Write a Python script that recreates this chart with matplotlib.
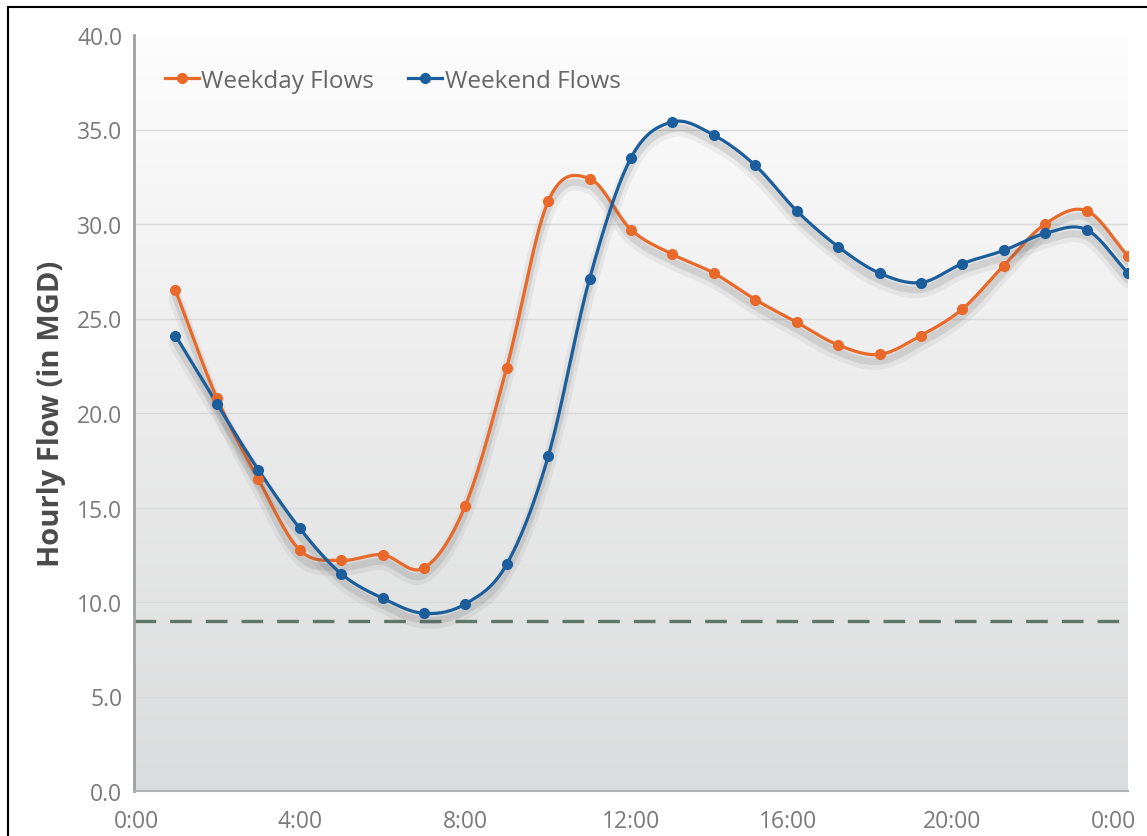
import numpy as np
import matplotlib
matplotlib.use("Agg")
import matplotlib.pyplot as plt
import matplotlib.patheffects as pe
from matplotlib.patches import Rectangle
from matplotlib.colors import LinearSegmentedColormap

# ---- data ----
hours = list(range(1, 25))
weekday = [26.5, 20.8, 16.5, 12.75, 12.2, 12.5, 11.8, 15.1, 22.4, 31.2, 32.4, 29.7,
           28.4, 27.4, 26.0, 24.8, 23.6, 23.1, 24.1, 25.5, 27.8, 30.0, 30.7, 28.3]
weekend = [24.1, 20.5, 17.0, 13.9, 11.5, 10.2, 9.4, 9.9, 12.0, 17.7, 27.1, 33.5,
           35.4, 34.7, 33.1, 30.7, 28.8, 27.4, 26.9, 27.9, 28.6, 29.5, 29.7, 27.4]
threshold = 9.0
xtick_labels = ["0:00", "4:00", "8:00", "12:00", "16:00", "20:00", "0:00"]
yticks = [0, 5, 10, 15, 20, 25, 30, 35, 40]
series_names = ["Weekday Flows", "Weekend Flows"]
colors = ["#E8692A", "#1B5E9B"]

# label placement along the axis (as in the original layout)
xtick_pos = [0.07, 4.0, 8.0, 12.0, 15.78, 19.75, 23.65]

plt.rcParams['font.family'] = ['Open Sans', 'DejaVu Sans']


def catmull_rom(x, y, n=20):
    x = np.asarray(x, float)
    y = np.asarray(y, float)
    px = np.concatenate([[2 * x[0] - x[1]], x, [2 * x[-1] - x[-2]]])
    py = np.concatenate([[2 * y[0] - y[1]], y, [2 * y[-1] - y[-2]]])
    xs, ys = [], []
    t = np.linspace(0, 1, n, endpoint=False)
    for i in range(1, len(px) - 2):
        p0, p1, p2, p3 = py[i - 1], py[i], py[i + 1], py[i + 2]
        q0, q1, q2, q3 = px[i - 1], px[i], px[i + 1], px[i + 2]
        f = lambda a0, a1, a2, a3: 0.5 * ((2 * a1) + (-a0 + a2) * t +
                                          (2 * a0 - 5 * a1 + 4 * a2 - a3) * t ** 2 +
                                          (-a0 + 3 * a1 - 3 * a2 + a3) * t ** 3)
        xs.append(f(q0, q1, q2, q3))
        ys.append(f(p0, p1, p2, p3))
    xs.append([x[-1]])
    ys.append([y[-1]])
    return np.concatenate(xs), np.concatenate(ys)


fig = plt.figure(figsize=(11.47, 8.37), dpi=100)
fig.patch.set_facecolor("white")

# frame border (top-left visible)
fig.patches.append(Rectangle((8 / 1147, -0.01), 1.02, 1 - 8 / 837 + 0.01,
                             transform=fig.transFigure, fill=False,
                             edgecolor="black", linewidth=1.5, zorder=0))

ax = fig.add_axes([134 / 1147, 1 - 792 / 837, (1128 - 134) / 1147, (792 - 36) / 837])

# gradient background
grad = np.linspace(0, 1, 256).reshape(-1, 1)
cmap = LinearSegmentedColormap.from_list("bg", ["#dbdcdd", "#ebebeb", "#fdfdfd"])
ax.imshow(grad, extent=[0, 24, 0, 40], origin="lower", aspect="auto",
          cmap=cmap, zorder=0, interpolation="bicubic")

ax.set_xlim(0, 24)
ax.set_ylim(0, 40)

for yv in yticks[1:-1]:
    ax.axhline(yv, color="#d9d9d9", linewidth=1.0, zorder=1)

ax.axhline(threshold, color="#5e7769", linewidth=2.4, dashes=(6.5, 4.2), zorder=2)

shadow = [pe.SimpleLineShadow(offset=(0, -6), shadow_color="#555555", alpha=0.08, linewidth=10),
          pe.SimpleLineShadow(offset=(0, -5), shadow_color="#555555", alpha=0.14, linewidth=5),
          pe.Normal()]

for vals, name, c in zip([weekday, weekend], series_names, colors):
    sx, sy = catmull_rom(hours, vals)
    ax.plot(sx, sy, color=c, linewidth=2.3, zorder=3, path_effects=shadow,
            solid_capstyle="round")
    ax.plot(hours, vals, linestyle="none", marker="o", markersize=7, color=c, zorder=4)

handles = [plt.Line2D([], [], color=c, linewidth=2.3, marker="o", markersize=7)
           for c in colors]
ax.legend(handles, series_names, loc="center left",
          bbox_to_anchor=((165 - 134) / 994, (792 - 82) / 756),
          ncol=2, frameon=False, fontsize=17.5, handlelength=1.4, handletextpad=0.1,
          columnspacing=1.4, borderpad=0, borderaxespad=0, numpoints=1,
          labelcolor="#666666")

ax.set_xticks(xtick_pos)
ax.set_xticklabels(xtick_labels)
ax.set_yticks(yticks)
ax.set_yticklabels([f"{v:.1f}" for v in yticks])
ax.tick_params(axis="both", length=0, labelsize=16.5, colors="#7a7a7a")
ax.tick_params(axis="y", pad=8.5)
ax.tick_params(axis="x", pad=13)

for s in ["top", "right"]:
    ax.spines[s].set_visible(False)
ax.spines["left"].set_color("#a0a0a0")
ax.spines["left"].set_linewidth(2)
ax.spines["bottom"].set_color("#b0b0b0")
ax.spines["bottom"].set_linewidth(1.5)

ax.set_ylabel("Hourly Flow (in MGD)", fontsize=21, fontweight="bold",
              color="#4a4a4a", labelpad=8)

fig.savefig("out.png", dpi=100)
